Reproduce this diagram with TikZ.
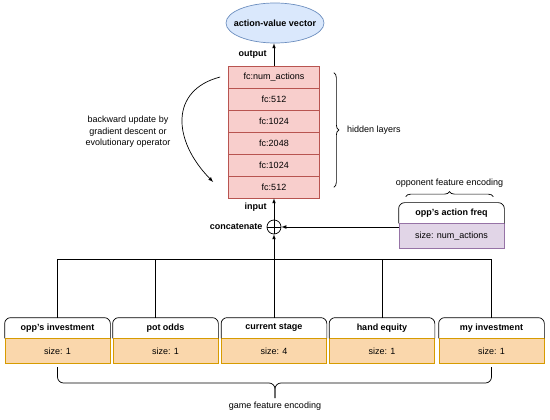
\documentclass[tikz,border=0pt]{standalone}
\usepackage{fontspec}
\setmainfont{Liberation Sans}
\usetikzlibrary{calc,positioning,shapes,decorations.pathreplacing}
\definecolor{layerfill}{HTML}{F8CECC}
\definecolor{layerdraw}{HTML}{B85450}
\definecolor{outfill}{HTML}{DAE8FC}
\definecolor{outdraw}{HTML}{6C8EBF}
\definecolor{gamefill}{HTML}{FAD7AC}
\definecolor{gamedraw}{HTML}{D79B00}
\definecolor{oppfill}{HTML}{E1D5E7}
\definecolor{oppdraw}{HTML}{9673A6}
\tikzstyle{every node}=[font=\fontsize{9}{11.5}\selectfont,inner sep=0pt]
\tikzstyle{arrow} = [->,>=latex]
\tikzstyle{bold} = [font=\fontsize{9}{11.5}\selectfont\bfseries]
\tikzstyle{layer} = [draw=layerdraw,fill=layerfill,minimum width=91pt,minimum height=22pt]
\tikzstyle{head} = [bold,minimum width=105pt,minimum height=20pt]
\tikzstyle{sizebox} = [draw=gamedraw,fill=gamefill,minimum width=105pt,minimum height=25pt]
\tikzstyle{oppbox} = [draw=oppdraw,fill=oppfill,minimum width=105pt,minimum height=25pt]
\tikzstyle{brace} = [decorate,decoration={brace,amplitude=5pt}]

\begin{document}
\begin{tikzpicture}[x=1pt,y=-1pt,line width=0.7pt]
\useasboundingbox (0,0) rectangle (550,420);

\node[ellipse,draw=outdraw,fill=outfill,bold,minimum width=98pt,minimum height=40pt] (out) at (275,23) {\makebox[0pt]{action-value vector}};

\foreach \t [count=\i] in {fc:num\_actions,fc:512,fc:1024,fc:2048,fc:1024,fc:512}
  \node[layer] (l\i) at (274,{55+22*\i}) {\t};

\draw[arrow] (l1) -- (l1 |- out.south) node[midway,left=7pt,bold] {output};

\draw[brace] ([xshift=14pt,yshift=-7pt]l1.north east) -- ([xshift=14pt,yshift=11pt]l6.south east) node[midway,right=13pt] (hid) {hidden layers};

\node[align=center] (upd) at (128,132) {backward update by\\gradient descent or\\evolutionary operator};
\draw[arrow] ([xshift=-8pt]l1.west) .. controls (170,90) and (172,140) .. ([xshift=-15pt,yshift=5pt]l6.west);

% concatenation
\node[circle,draw,minimum size=14pt] (cat) at (274,227) {};
\draw (cat.north) -- (cat.south) (cat.west) -- (cat.east);
\node[bold,left=4pt of cat] (catlbl) {concatenate};
\draw[arrow] (cat) -- (l6) node[pos=0.6,left=7pt,bold] {input};

% opponent features
\node[head] (oh) at (451.5,213) {opp's action freq};
\node[oppbox,below=0pt of oh] (ob) {size: num\_actions};
\draw[rounded corners=6pt] (oh.south west) -- (oh.north west) -- (oh.north east) -- (oh.south east);
\draw[brace] ([xshift=7pt,yshift=6pt]oh.north west) -- ([xshift=-11pt,yshift=6pt]oh.north east) node[midway,above=9pt] (oppenc) {opponent feature encoding};
\draw[arrow] (cat -| ob.west) -- (cat);

% game features
\foreach \t/\s/\x [count=\i] in {opp's investment/1/57.5,pot odds/1/165.5,current stage/4/274,hand equity/1/382,my investment/1/491.5}{
  \node[head] (h\i) at (\x,328) {\t};
  \node[sizebox,below=0pt of h\i] (b\i) {size: \s};
  \draw[rounded corners=6pt] (h\i.south west) -- (h\i.north west) -- (h\i.north east) -- (h\i.south east);
}
\coordinate (bus) at (274,259);
\draw (h1.north) -- (h1.north |- bus) -- (h5.north |- bus) -- (h5.north);
\draw ([xshift=-10pt]h2.north) -- ([xshift=-10pt]h2.north |- bus);
\draw (h4.north) -- (h4.north |- bus);
\draw[arrow] (h3.north) -- (cat);

\coordinate (gtip) at (275,398);
\draw[rounded corners=6pt] ([yshift=-3pt]b1.south) |- ($(gtip)+(0,-15)$) -- (gtip);
\draw[rounded corners=6pt] ([yshift=-3pt]b5.south) |- ($(gtip)+(0,-15)$) -- (gtip);
\node[below=4pt of gtip] (gameenc) {game feature encoding};
\end{tikzpicture}
\end{document}
